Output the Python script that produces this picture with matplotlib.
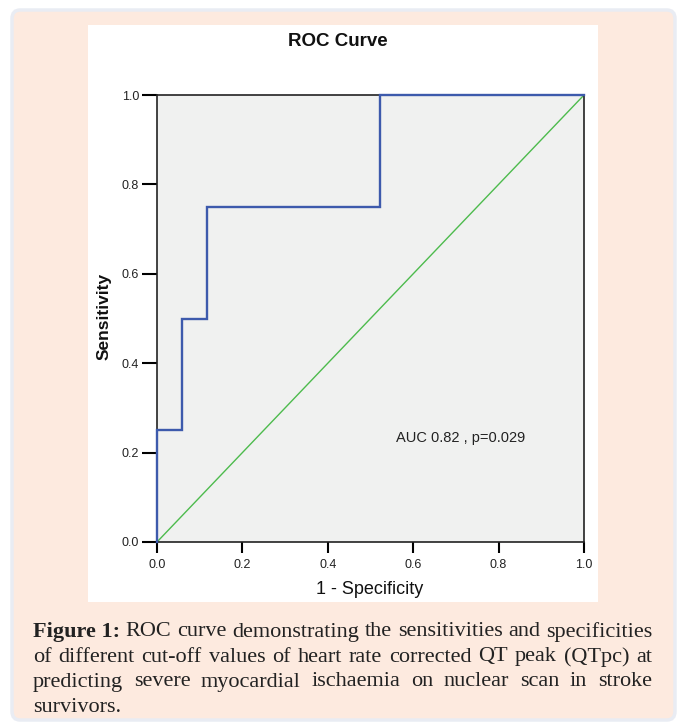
import numpy as np
import matplotlib.pyplot as plt
from matplotlib.patches import FancyBboxPatch, Rectangle

# ROC step points
fpr = [0.0, 0.0, 0.059, 0.059, 0.118, 0.118, 0.523, 0.523, 1.0]
tpr = [0.0, 0.25, 0.25, 0.5, 0.5, 0.75, 0.75, 1.0, 1.0]
ticks = [0.0, 0.2, 0.4, 0.6, 0.8, 1.0]
tick_labels = ["0.0", "0.2", "0.4", "0.6", "0.8", "1.0"]
auc_text = "AUC 0.82 , p=0.029"
caption_bold = "Figure 1:"
caption_lines = [
    "ROC curve demonstrating the sensitivities and specificities",
    "of different cut-off values of heart rate corrected QT peak (QTpc) at",
    "predicting severe myocardial ischaemia on nuclear scan in stroke",
    "survivors.",
]

W, H = 678, 722
fig = plt.figure(figsize=(W / 100, H / 100), dpi=100)
fig.patch.set_facecolor("white")

def fx(px):
    return px / W

def fy(py):
    return 1 - py / H

# peach card with rounded corners
card = FancyBboxPatch((fx(12), fy(720)), fx(663), (720 - 10) / H,
                      boxstyle="round,pad=0,rounding_size=0.012",
                      transform=fig.transFigure, facecolor="#fdeadf",
                      edgecolor="#e9ecf3", linewidth=2.5, zorder=-3)
fig.patches.append(card)
panel = Rectangle((fx(88), fy(602)), fx(598 - 88), (602 - 25) / H,
                  transform=fig.transFigure, facecolor="white",
                  edgecolor="none", zorder=-2)
fig.patches.append(panel)

ax = fig.add_axes([fx(157), fy(542), fx(584 - 157), (542 - 95) / H])
ax.set_facecolor("#f0f1f0")
ax.plot([0, 1], [0, 1], color="#4dbb4d", lw=1.0, zorder=2)
ax.plot(fpr, tpr, color="#3d5aac", lw=1.7, zorder=3, solid_joinstyle="miter", clip_on=False)
ax.set_xlim(0, 1)
ax.set_ylim(0, 1)
ax.set_xticks(ticks)
ax.set_yticks(ticks)
ax.set_xticklabels(tick_labels, family="Liberation Sans", fontsize=9, color="#222222")
ax.set_yticklabels(tick_labels, family="Liberation Sans", fontsize=9, color="#222222")
ax.tick_params(axis="x", direction="out", length=8, width=1.5, pad=4)
ax.tick_params(axis="y", direction="out", length=11, width=1.5, pad=2)
for s in ax.spines.values():
    s.set_linewidth(1.2)
    s.set_color("#222222")

fig.text(fx(338), fy(42), "ROC Curve", family="Liberation Sans", fontweight="bold",
         fontsize=13.5, ha="center", va="center", color="#111111")
fig.text(fx(370), fy(590), "1 - Specificity", family="Liberation Sans",
         fontsize=13, ha="center", va="center", color="#111111")
fig.text(fx(104), fy(316), "Sensitivity", family="Liberation Sans", fontweight="bold",
         fontsize=12.5, rotation=90, ha="center", va="center", color="#111111")
ax.text(0.56, 0.233, auc_text, family="Liberation Sans", fontsize=10.5, color="#222222",
        va="center", ha="left")

# justified caption
fig.canvas.draw()
renderer = fig.canvas.get_renderer()
x0, x1 = 33, 652
ys = [632, 657, 682, 707]
fs = 16

def width_px(t):
    bb = t.get_window_extent(renderer=renderer)
    return bb.width

for i, line in enumerate(caption_lines):
    words = line.split(" ")
    items = []
    if i == 0:
        items.append((caption_bold, "bold"))
    items += [(w, "normal") for w in words]
    texts = []
    for w, wt in items:
        t = fig.text(0, fy(ys[i]), w, family="Liberation Serif", fontsize=fs,
                     fontweight=wt, color="#222222", va="center", ha="left")
        texts.append(t)
    widths = [width_px(t) for t in texts]
    if i < len(caption_lines) - 1 and len(texts) > 1:
        gap = (x1 - x0 - sum(widths)) / (len(texts) - 1)
    else:
        gap = 4
    x = x0
    for t, wd in zip(texts, widths):
        t.set_x(fx(x))
        x += wd + gap

fig.savefig("out.png", dpi=100, facecolor=fig.get_facecolor())
